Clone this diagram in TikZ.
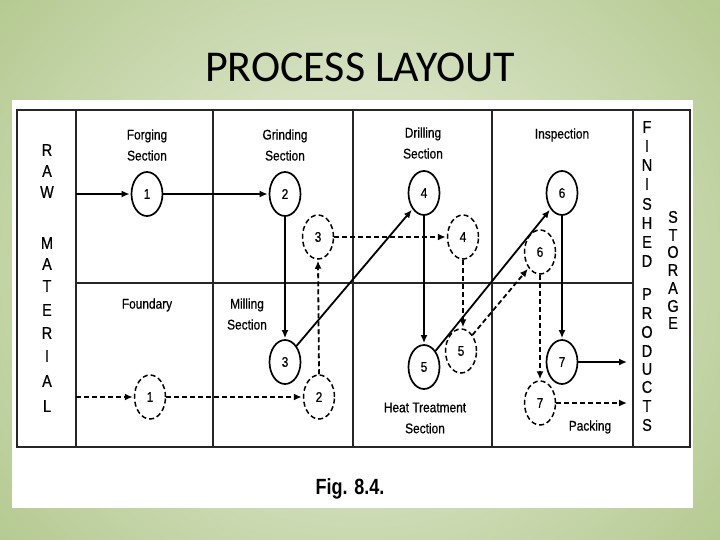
\documentclass[tikz,border=0pt]{standalone}
\usepackage{fontspec}
\setmainfont{Liberation Sans}
\newfontfamily\titlefont{Carlito}
\newfontfamily\narrowfont[FakeStretch=0.85,FakeBold=0.6]{Liberation Sans}
\newfontfamily\figfont[FakeStretch=0.82]{Liberation Sans Bold}
\usetikzlibrary{arrows.meta,shapes.geometric}
\definecolor{bgouter}{RGB}{176,198,138}
\definecolor{bginner}{RGB}{236,241,226}
\tikzset{
  gridline/.style={line width=2pt, black!85},
  opnode/.style={ellipse, draw, line width=1.7pt, minimum width=31pt, minimum height=44pt, inner sep=0pt, font=\narrowfont\fontsize{14}{14}\selectfont},
  dopnode/.style={opnode, line width=1.5pt, dash pattern=on 5pt off 3pt},
  flow/.style={line width=1.8pt, -{Latex[length=8pt,width=7pt]}, shorten >=1pt},
  dflow/.style={flow, dash pattern=on 5pt off 3pt},
  seclabel/.style={align=center, font=\narrowfont\fontsize{14}{21}\selectfont},
  vletter/.style={font=\narrowfont\fontsize{17}{17}\selectfont, inner sep=0pt}
}
\begin{document}
\begin{tikzpicture}[x=1pt,y=-1pt]
\useasboundingbox (0,0) rectangle (720,540);
\shade[inner color=bginner, outer color=bgouter] (-150,-200) rectangle (870,740);
\fill[white] (12,100) rectangle (693,508);
\node[font=\titlefont\fontsize{44}{44}\selectfont, anchor=base] (title) at (360,82) {PROCESS LAYOUT};
% grid
\draw[gridline] (17,110) rectangle (690,447);
\foreach \x in {76,213,353,492,633} \draw[gridline] (\x,110) -- (\x,447);
\draw[gridline] (76,283) -- (633,283);
% vertical texts
\foreach \l/\y [count=\i] in {R/150,A/171,W/192,M/243,A/264,T/286,E/310,R/333,I/356,A/381,L/406}
  \node[vletter] (raw\i) at (47,\y) {\l};
\foreach \l/\y [count=\i] in {F/127,I/146,N/165,I/184,S/204,H/223,E/242,D/261,P/294,R/313,O/332,D/351,U/369,C/387,T/406,S/425}
  \node[vletter] (fin\i) at (647,\y) {\l};
\foreach \l/\y [count=\i] in {S/217,T/235,O/252,R/270,A/288,G/306,E/323}
  \node[vletter] (sto\i) at (673,\y) {\l};
% section labels
\node[seclabel] (forging) at (147,145) {Forging\\Section};
\node[seclabel] (grinding) at (285,145) {Grinding\\Section};
\node[seclabel] (drilling) at (423,143) {Drilling\\Section};
\node[seclabel] (inspection) at (562,135) {Inspection};
\node[seclabel] (foundary) at (147,305) {Foundary};
\node[seclabel] (milling) at (247,314) {Milling\\Section};
\node[seclabel] (heat) at (425,418) {Heat Treatment\\Section};
\node[seclabel] (packing) at (590,427) {Packing};
\node[font=\figfont\fontsize{22}{22}\selectfont] (fig) at (350,489) {Fig. 8.4.};
% solid operation nodes
\node[opnode] (s1) at (147,194) {1};
\node[opnode] (s2) at (285,194) {2};
\node[opnode] (s3) at (285,362) {3};
\node[opnode] (s4) at (424,193) {4};
\node[opnode] (s5) at (424,367) {5};
\node[opnode] (s6) at (562,193) {6};
\node[opnode] (s7) at (562,362) {7};
% dashed operation nodes
\node[dopnode] (d1) at (150,397) {1};
\node[dopnode] (d2) at (319,397) {2};
\node[dopnode] (d3) at (318,237) {3};
\node[dopnode] (d4) at (463,237) {4};
\node[dopnode] (d5) at (461,351) {5};
\node[dopnode] (d6) at (540,252) {6};
\node[dopnode] (d7) at (540,403) {7};
% free ends
\coordinate (rawin1) at (76,194);
\coordinate (rawin2) at (76,397);
\coordinate (out1) at (628,362);
\coordinate (out2) at (628,403);
% solid flow
\draw[flow] (rawin1) -- (s1.west);
\draw[flow] (s1.east) -- (s2.west);
\draw[flow] (s2.south) -- (s3.north);
\draw[flow] (s3.north east) -- (s4.south west);
\draw[flow] (s4.south) -- (s5.north);
\draw[flow] (s5.north east) -- (s6.south west);
\draw[flow] (s6.south) -- (s7.north);
\draw[flow] (s7.east) -- (out1);
% dashed flow
\draw[dflow] (rawin2) -- (d1.west);
\draw[dflow] (d1.east) -- (d2.west);
\draw[dflow] (d2.north) -- (d3.south);
\draw[dflow] (d3.east) -- (d4.west);
\draw[dflow] (d4.south) -- (d4.south |- d5.north);
\draw[dflow] (d5.north east) -- (d6.south west);
\draw[dflow] (d6.south) -- (d7.north);
\draw[dflow] (d7.east) -- (out2);
\end{tikzpicture}
\end{document}
